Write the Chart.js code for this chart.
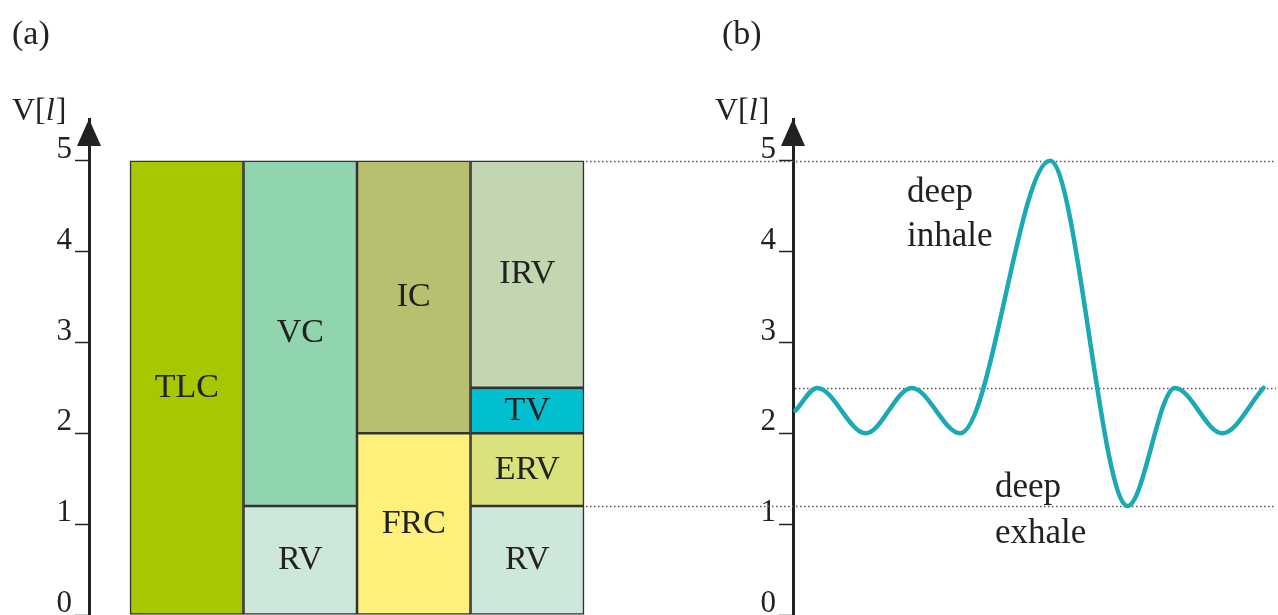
<!DOCTYPE html>
<html>
<head>
<meta charset="utf-8">
<script src="https://cdn.jsdelivr.net/npm/chart.js@4/dist/chart.umd.min.js"></script>
<style>
html,body{margin:0;padding:0;background:#fff;}
#wrap{position:relative;width:1278px;height:615px;overflow:hidden;background:#fff;}
#ca{position:absolute;left:0;top:0;}
#cb{position:absolute;left:640px;top:0;}
</style>
</head>
<body>
<div id="wrap">
<canvas id="ca" width="640" height="615"></canvas>
<canvas id="cb" width="638" height="615"></canvas>
</div>
<script>
// ---------- data ----------
const yTicks = [0, 1, 2, 3, 4, 5];
const columns = [0, 1, 2, 3];
const segLabels = ['TLC', 'VC', 'RV', 'IC', 'FRC', 'IRV', 'TV', 'ERV', 'RV'];
const segColumn = [0, 1, 1, 2, 2, 3, 3, 3, 3];
const segLow    = [0, 1.2, 0, 2, 0, 2.5, 2, 1.2, 0];
const segHigh   = [5, 5, 1.2, 5, 2, 5, 2.5, 2, 1.2];
const breathTime   = [0.1, 1.0, 3.0, 4.9, 6.9, 10.6, 13.8, 15.75, 17.7, 19.4];
const breathVolume = [2.25, 2.5, 2.0, 2.5, 2.0, 5.0, 1.2, 2.5, 2.0, 2.5];
const refLevelsA = [5, 1.2];
const refLevelsB = [5, 2.5, 1.2];
const inhaleText = ['deep', 'inhale'];
const exhaleText = ['deep', 'exhale'];

// ---------- styles ----------
const FONT = '"Liberation Serif", "Times New Roman", serif';
const INK = '#222';
const segColors = ['#a6c800', '#90d5ae', '#cde8da', '#b8bf6f', '#fef07b', '#c1d6b1', '#00c0cf', '#d9e27c', '#cde8da'];
const curveColor = '#1ba9b4';

Chart.defaults.font.family = FONT;
Chart.defaults.color = INK;

function yScale(width) {
  return {
    type: 'linear', min: 0, max: 5.46,
    afterBuildTicks: s => { s.ticks = yTicks.map(v => ({ value: v })); },
    afterFit: s => { s.width = width; s.paddingTop = 0; s.paddingBottom = 0; },
    border: { display: true, color: INK, width: 3 },
    grid: { display: true, drawOnChartArea: false, drawTicks: true, tickLength: 14, tickColor: INK, tickWidth: 1.5 },
    ticks: { font: { size: 31, family: FONT }, color: INK, padding: 3, labelOffset: -11, autoSkip: false }
  };
}

function drawArrow(chart) {
  const { ctx, chartArea: a } = chart;
  ctx.save();
  ctx.fillStyle = INK;
  ctx.beginPath();
  ctx.moveTo(a.left, a.top);
  ctx.lineTo(a.left - 12, a.top + 27);
  ctx.lineTo(a.left + 12, a.top + 27);
  ctx.closePath();
  ctx.fill();
  ctx.restore();
}

function drawVl(ctx, x, y) {
  ctx.save();
  ctx.fillStyle = INK;
  ctx.textBaseline = 'alphabetic';
  ctx.textAlign = 'left';
  ctx.font = '32px ' + FONT;
  ctx.fillText('V[', x, y);
  let w = ctx.measureText('V[').width;
  ctx.font = 'italic 32px ' + FONT;
  ctx.fillText('l', x + w, y);
  w += ctx.measureText('l').width + 1;
  ctx.font = '32px ' + FONT;
  ctx.fillText(']', x + w, y);
  ctx.restore();
}

function drawPanelTitle(ctx, txt, x, y) {
  ctx.save();
  ctx.fillStyle = INK;
  ctx.font = '34px ' + FONT;
  ctx.textBaseline = 'alphabetic';
  ctx.textAlign = 'left';
  ctx.fillText(txt, x, y);
  ctx.restore();
}

function dotted(ctx, x0, x1, y) {
  ctx.beginPath();
  ctx.moveTo(x0, y);
  ctx.lineTo(x1, y);
  ctx.stroke();
}

// ---------- panel (a) ----------
const pluginA = {
  id: 'panelA',
  beforeDatasetsDraw(chart) {
    const { ctx, scales: { x, y } } = chart;
    const x0 = x.getPixelForValue(columns.length);
    ctx.save();
    ctx.strokeStyle = '#555';
    ctx.lineWidth = 1.3;
    ctx.setLineDash([1.5, 2.5]);
    refLevelsA.forEach(v => dotted(ctx, x0 + 2, chart.width, Math.round(y.getPixelForValue(v)) + 0.5));
    ctx.restore();
  },
  afterDatasetsDraw(chart) {
    const ctx = chart.ctx;
    ctx.save();
    ctx.font = '34px ' + FONT;
    ctx.fillStyle = INK;
    ctx.textAlign = 'center';
    ctx.textBaseline = 'middle';
    chart.data.datasets.forEach((ds, i) => {
      const el = chart.getDatasetMeta(i).data[0];
      if (!el) return;
      ctx.fillText(ds.label, el.x, (el.y + el.base) / 2);
    });
    ctx.restore();
  },
  afterDraw(chart) {
    drawArrow(chart);
    drawPanelTitle(chart.ctx, '(a)', 12, 44);
    drawVl(chart.ctx, 12, 120);
  }
};

new Chart(document.getElementById('ca'), {
  type: 'bar',
  data: {
    datasets: segLabels.map((lab, i) => ({
      label: lab,
      data: [{ x: segColumn[i] + 0.5, y: [segLow[i], segHigh[i]] }],
      backgroundColor: segColors[i],
      borderColor: '#333',
      borderWidth: 1.6,
      borderSkipped: false,
      grouped: false,
      barPercentage: 1,
      categoryPercentage: 1
    }))
  },
  options: {
    responsive: false,
    animation: false,
    devicePixelRatio: 1,
    layout: { padding: { top: 119, left: 0, right: 0, bottom: 0 } },
    plugins: { legend: { display: false }, tooltip: { enabled: false } },
    scales: {
      x: {
        type: 'linear', display: false, offset: false, grid: { offset: false },
        min: -0.361, max: 4.493,
        afterBuildTicks: s => { s.ticks = columns.concat([columns.length]).map(v => ({ value: v })); }
      },
      y: yScale(89)
    }
  },
  plugins: [pluginA]
});

// ---------- panel (b) ----------
const pluginB = {
  id: 'panelB',
  beforeDatasetsDraw(chart) {
    const { ctx, chartArea: a, scales: { y } } = chart;
    ctx.save();
    ctx.strokeStyle = '#555';
    ctx.lineWidth = 1.3;
    ctx.setLineDash([1.5, 2.5]);
    refLevelsB.forEach(v => {
      const start = refLevelsA.includes(v) ? 0 : a.left + 2;
      dotted(ctx, start, chart.width - 2, Math.round(y.getPixelForValue(v)) + 0.5);
    });
    ctx.restore();
  },
  afterDatasetsDraw(chart) {
    const { ctx, scales: { x, y } } = chart;
    ctx.save();
    ctx.font = '35px ' + FONT;
    ctx.fillStyle = INK;
    ctx.textAlign = 'left';
    ctx.textBaseline = 'alphabetic';
    const ix = x.getPixelForValue(4.7);
    ctx.fillText(inhaleText[0], ix, y.getPixelForValue(4.55));
    ctx.fillText(inhaleText[1], ix, y.getPixelForValue(4.06));
    const ex = x.getPixelForValue(8.33);
    ctx.fillText(exhaleText[0], ex, y.getPixelForValue(1.3));
    ctx.fillText(exhaleText[1], ex, y.getPixelForValue(0.79));
    ctx.restore();
  },
  afterDraw(chart) {
    drawArrow(chart);
    drawPanelTitle(chart.ctx, '(b)', 82, 44);
    drawVl(chart.ctx, 75, 120);
  }
};

new Chart(document.getElementById('cb'), {
  type: 'line',
  data: {
    datasets: [{
      label: 'V',
      data: breathTime.map((t, i) => ({ x: t, y: breathVolume[i] })),
      borderColor: curveColor,
      borderWidth: 4.5,
      borderCapStyle: 'round',
      borderJoinStyle: 'round',
      pointRadius: 0,
      fill: false,
      cubicInterpolationMode: 'monotone'
    }]
  },
  options: {
    responsive: false,
    animation: false,
    devicePixelRatio: 1,
    layout: { padding: { top: 119, left: 0, right: 0, bottom: 0 } },
    plugins: { legend: { display: false }, tooltip: { enabled: false } },
    scales: {
      x: { type: 'linear', display: false, min: 0, max: 20 },
      y: yScale(153)
    }
  },
  plugins: [pluginB]
});
</script>
</body>
</html>
